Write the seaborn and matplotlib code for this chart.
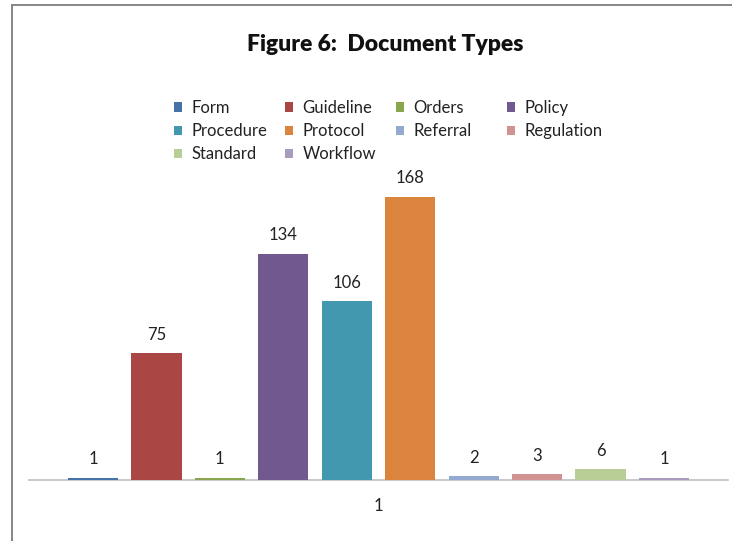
import matplotlib
matplotlib.use("Agg")
import matplotlib.pyplot as plt
from matplotlib.patches import Rectangle
from matplotlib.lines import Line2D
import seaborn as sns
import pandas as pd

# Document counts by type
doc_types = ["Form", "Guideline", "Orders", "Policy", "Procedure", "Protocol",
             "Referral", "Regulation", "Standard", "Workflow"]
counts = [1, 75, 1, 134, 106, 168, 2, 3, 6, 1]
group_label = ["1"] * len(doc_types)
colors = ["#4572A7", "#AA4643", "#89A54E", "#71588F", "#4198AF", "#DB843D",
          "#93A9CF", "#D19392", "#B9CD96", "#A99BBD"]

df = pd.DataFrame({"group": group_label, "type": doc_types, "count": counts})

sns.set_theme(style="white")
plt.rcParams["font.family"] = ["Lato", "DejaVu Sans"]

W, H = 732, 541
fig = plt.figure(figsize=(W / 100, H / 100), dpi=100)

# plot area in pixel terms
x0, x1 = 29, 728
y_base = 479.5
ymax = 180
px_per_unit = 283 / 168
ax_h = ymax * px_per_unit
ax = fig.add_axes([x0 / W, 1 - y_base / H, (x1 - x0) / W, ax_h / H])

sns.barplot(data=df, x="group", y="count", hue="type", hue_order=doc_types,
            palette=colors, width=0.9076, gap=0.21, dodge=True, ax=ax,
            legend=False, saturation=1, linewidth=0)

ax.set_xlim(-0.5, 0.5)
ax.set_ylim(0, ymax)
ax.set_xlabel("")
ax.set_ylabel("")
ax.set_yticks([])
for s in ["top", "right", "left"]:
    ax.spines[s].set_visible(False)
ax.spines["bottom"].set_color("#BFBFBF")
ax.spines["bottom"].set_linewidth(1.2)
ax.spines["bottom"].set_zorder(0)
ax.tick_params(axis="x", length=0, pad=13, labelsize=12, labelcolor="#222222")

for cont in ax.containers:
    ax.bar_label(cont, fmt="%d", padding=7.5, fontsize=12, color="#222222")

# title
fig.text(385.5 / W, 1 - 45 / H, "Figure 6:  Document Types", ha="center",
         va="center", fontsize=16.5, fontweight="heavy", color="#111111")

# legend: four evenly spaced columns, rows read across
col_x = [174, 285, 396, 507]
columns = [[0, 4, 8], [1, 5, 9], [2, 6], [3, 7]]
for cx, idx in zip(col_x, columns):
    handles = [Rectangle((0, 0), 1, 1, facecolor=colors[i], edgecolor="none") for i in idx]
    labels = [doc_types[i] for i in idx]
    fig.legend(handles, labels, ncol=1, loc="upper left",
               bbox_to_anchor=(cx / W, 1 - 100 / H), frameon=False, fontsize=12,
               handlelength=0.5, handleheight=0.5, handletextpad=0.55,
               labelspacing=0.43, borderpad=0, borderaxespad=0,
               labelcolor="#222222")

# outer chart frame
frame_kw = dict(color="#868686", linewidth=1.4, transform=fig.transFigure)
fig.add_artist(Line2D([12 / W, 12 / W], [1 - 5 / H, 0], **frame_kw))
fig.add_artist(Line2D([12 / W, 1], [1 - 5 / H, 1 - 5 / H], **frame_kw))

fig.savefig("out.png", dpi=100)
